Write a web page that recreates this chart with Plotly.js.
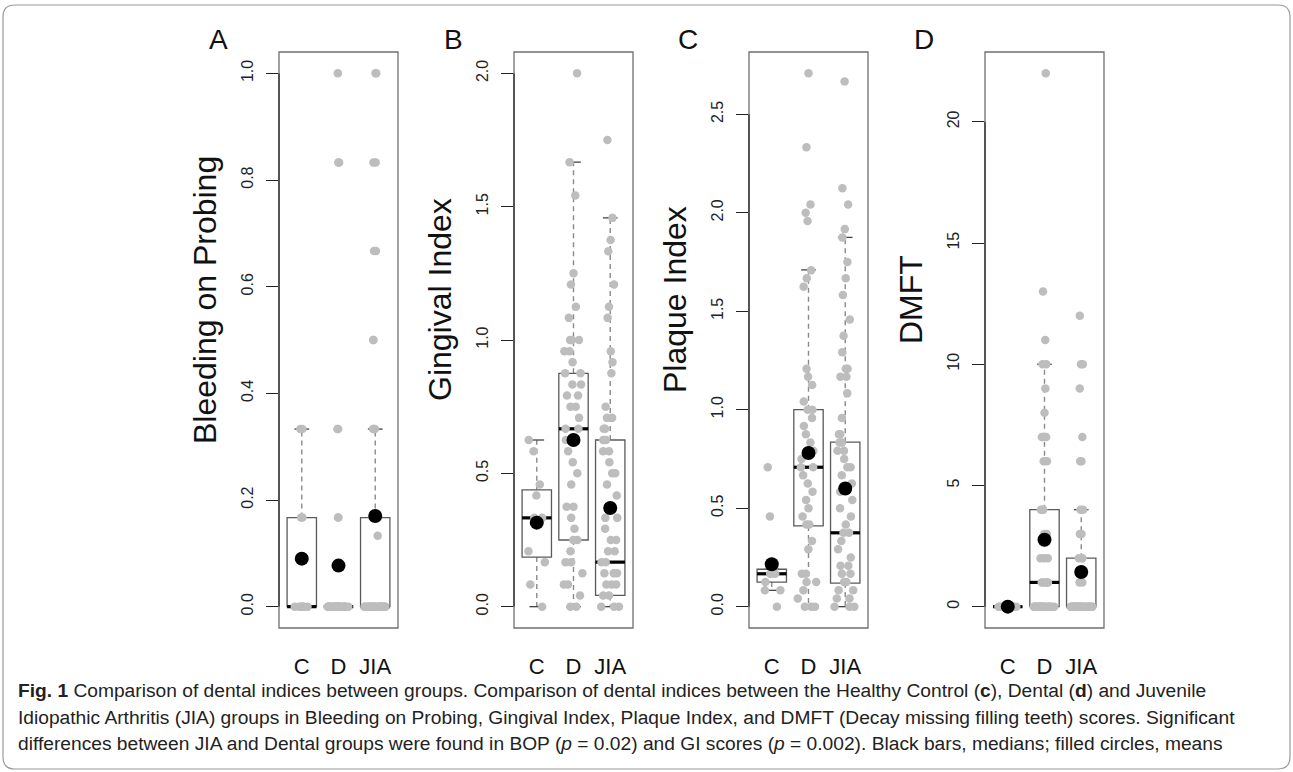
<!DOCTYPE html>
<html><head><meta charset="utf-8">
<script src="https://cdn.plot.ly/plotly-3.0.1.min.js"></script>
<style>html,body{margin:0;padding:0;background:#fff;}#chart{width:1293px;height:772px;}</style>
</head><body><div id="chart"></div>
<script>
// ---------- data ----------
const groups = ['C', 'D', 'JIA'];
const panelLetters = ['A', 'B', 'C', 'D'];
const panelTitles = ['Bleeding on Probing', 'Gingival Index', 'Plaque Index', 'DMFT'];

// A: Bleeding on Probing (individual scores)
const bopC = [0.333, 0.333, 0.167, 0.167, 0, 0, 0, 0, 0, 0, 0];
const bopD = [1.0, 0.833, 0.833, 0.333, 0.333, 0.167, 0.167,
  0, 0, 0, 0, 0, 0, 0, 0, 0, 0, 0, 0, 0, 0, 0, 0, 0, 0, 0, 0, 0, 0, 0, 0, 0, 0, 0, 0, 0, 0];
const bopJIA = [1.0, 1.0, 0.833, 0.833, 0.667, 0.667, 0.5, 0.5, 0.333, 0.333, 0.333, 0.167, 0.167, 0.167, 0.133,
  0, 0, 0, 0, 0, 0, 0, 0, 0, 0, 0, 0, 0, 0, 0, 0, 0, 0, 0, 0, 0, 0, 0, 0, 0, 0, 0, 0];
const bopQ1 = [0, 0, 0], bopMed = [0, 0, 0], bopQ3 = [0.167, 0, 0.167];
const bopLo = [0, 0, 0], bopHi = [0.333, 0, 0.333], bopMean = [0.09, 0.077, 0.17];
const bopTicks = [0, 0.2, 0.4, 0.6, 0.8, 1.0];

// B: Gingival Index
const giC = [0.625, 0.583, 0.458, 0.417, 0.333, 0.333, 0.208, 0.167, 0.083, 0];
const giD = [2.0, 1.667, 1.542, 1.25, 1.208, 1.125, 1.083, 1.0, 1.0, 1.0, 0.958, 0.958, 0.917, 0.875, 0.875,
  0.833, 0.833, 0.792, 0.792, 0.75, 0.75, 0.708, 0.667, 0.667, 0.625, 0.583, 0.542, 0.5, 0.458, 0.375, 0.375,
  0.333, 0.292, 0.25, 0.25, 0.208, 0.167, 0.167, 0.125, 0.083, 0.083, 0.042, 0, 0];
const giJIA = [1.75, 1.458, 1.375, 1.333, 1.208, 1.125, 1.083, 0.958, 0.917, 0.875, 0.75, 0.708, 0.708, 0.667,
  0.667, 0.625, 0.625, 0.583, 0.583, 0.542, 0.5, 0.5, 0.458, 0.417, 0.333, 0.333, 0.292, 0.25, 0.25, 0.208,
  0.208, 0.167, 0.167, 0.125, 0.125, 0.125, 0.083, 0.083, 0.083, 0.042, 0.042, 0, 0, 0];
const giQ1 = [0.186, 0.25, 0.042], giMed = [0.333, 0.667, 0.167], giQ3 = [0.438, 0.875, 0.625];
const giLo = [0, 0, 0], giHi = [0.625, 1.667, 1.458], giMean = [0.315, 0.625, 0.37];
const giTicks = [0, 0.5, 1.0, 1.5, 2.0];

// C: Plaque Index
const piC = [0.708, 0.458, 0.188, 0.167, 0.167, 0.167, 0.125, 0.083, 0.083, 0];
const piD = [2.708, 2.333, 2.042, 2.0, 1.958, 1.708, 1.667, 1.625, 1.208, 1.167, 1.125, 1.042, 1.0, 1.0, 0.958,
  0.917, 0.875, 0.833, 0.792, 0.75, 0.708, 0.708, 0.667, 0.625, 0.583, 0.542, 0.5, 0.458, 0.417, 0.417, 0.333,
  0.292, 0.167, 0.167, 0.125, 0.125, 0.083, 0.042, 0, 0, 0];
const piJIA = [2.667, 2.125, 2.042, 1.917, 1.875, 1.75, 1.667, 1.583, 1.458, 1.375, 1.292, 1.208, 1.208, 1.167,
  1.167, 1.083, 0.958, 0.875, 0.875, 0.833, 0.833, 0.792, 0.792, 0.75, 0.708, 0.708, 0.667, 0.625, 0.583, 0.542,
  0.5, 0.458, 0.417, 0.375, 0.375, 0.333, 0.292, 0.25, 0.208, 0.208, 0.167, 0.167, 0.125, 0.125, 0.083, 0.083,
  0.042, 0.042, 0, 0, 0];
const piQ1 = [0.125, 0.41, 0.12], piMed = [0.167, 0.708, 0.375], piQ3 = [0.19, 1.0, 0.835];
const piLo = [0.083, 0, 0], piHi = [0.19, 1.71, 1.875], piMean = [0.215, 0.78, 0.6];
const piTicks = [0, 0.5, 1.0, 1.5, 2.0, 2.5];

// D: DMFT
const dmftC = [0, 0, 0, 0, 0, 0, 0, 0, 0, 0];
const dmftD = [22, 13, 11, 10, 10, 9, 8, 7, 7, 7, 6, 6, 4, 4, 4, 3, 3, 2, 2, 2, 1, 1, 1, 1, 1,
  0, 0, 0, 0, 0, 0, 0, 0, 0, 0, 0, 0, 0, 0, 0, 0, 0, 0, 0, 0, 0, 0];
const dmftJIA = [12, 10, 10, 9, 7, 6, 6, 4, 4, 3, 3, 2, 2, 2, 1, 1,
  0, 0, 0, 0, 0, 0, 0, 0, 0, 0, 0, 0, 0, 0, 0, 0, 0, 0, 0, 0, 0, 0, 0, 0, 0, 0, 0, 0];
const dmftQ1 = [0, 0, 0], dmftMed = [0, 1, 0], dmftQ3 = [0, 4, 2];
const dmftLo = [0, 0, 0], dmftHi = [0, 10, 4], dmftMean = [0, 2.76, 1.43];
const dmftTicks = [0, 5, 10, 15, 20];

const captionLines = [
  '<b>Fig. 1</b> Comparison of dental indices between groups. Comparison of dental indices between the Healthy Control (<b>c</b>), Dental (<b>d</b>) and Juvenile',
  'Idiopathic Arthritis (JIA) groups in Bleeding on Probing, Gingival Index, Plaque Index, and DMFT (Decay missing filling teeth) scores. Significant',
  'differences between JIA and Dental groups were found in BOP (<i>p</i> = 0.02) and GI scores (<i>p</i> = 0.002). Black bars, medians; filled circles, means'
];

// ---------- build ----------
const W = 1293, H = 772;
const FONT = 'Liberation Sans, Arial, Helvetica, sans-serif';
const panels = [
  {vals: [bopC, bopD, bopJIA], q1: bopQ1, med: bopMed, q3: bopQ3, lo: bopLo, hi: bopHi, mean: bopMean, ticks: bopTicks, dec: 1},
  {vals: [giC, giD, giJIA], q1: giQ1, med: giMed, q3: giQ3, lo: giLo, hi: giHi, mean: giMean, ticks: giTicks, dec: 1},
  {vals: [piC, piD, piJIA], q1: piQ1, med: piMed, q3: piQ3, lo: piLo, hi: piHi, mean: piMean, ticks: piTicks, dec: 1},
  {vals: [dmftC, dmftD, dmftJIA], q1: dmftQ1, med: dmftMed, q3: dmftQ3, lo: dmftLo, hi: dmftHi, mean: dmftMean, ticks: dmftTicks, dec: 0}
];
const frameLeft = [279, 514, 749, 985];
const frameW = 119, frameTop = 52, frameBot = 628;
const BOXW = 0.8;

const data = [], shapes = [], annotations = [];
const layout = {
  width: W, height: H, margin: {l: 0, r: 0, t: 0, b: 0},
  paper_bgcolor: '#ffffff', plot_bgcolor: '#ffffff',
  showlegend: false, boxmode: 'overlay', font: {family: FONT, color: '#111'}
};

panels.forEach((p, k) => {
  const sfx = k === 0 ? '' : String(k + 1);
  const xa = 'x' + sfx, ya = 'y' + sfx;
  const all = [].concat(...p.vals);
  const mn = Math.min(...all), mx = Math.max(...all), ext = 0.04 * (mx - mn);
  layout['xaxis' + sfx] = {
    domain: [frameLeft[k] / W, (frameLeft[k] + frameW) / W], range: [0.38, 3.62],
    tickvals: [1, 2, 3], ticktext: groups, ticks: '', showline: false, zeroline: false, showgrid: false,
    tickfont: {size: 22, family: FONT, color: '#111'}, ticklabelstandoff: 23, anchor: ya, fixedrange: true
  };
  layout['yaxis' + sfx] = {
    domain: [1 - frameBot / H, 1 - frameTop / H], range: [mn - ext, mx + ext],
    tickvals: p.ticks, ticktext: p.ticks.map(v => v.toFixed(p.dec)), tickangle: -90,
    ticks: 'outside', ticklen: 12, tickwidth: 1, tickcolor: '#222', showline: false, zeroline: false,
    showgrid: false, tickfont: {size: 16, family: FONT, color: '#222'}, ticklabelstandoff: 7,
    anchor: xa, fixedrange: true
  };
  // jittered points (library jitter)
  const xs = [], ys = [];
  p.vals.forEach((arr, g) => arr.forEach(v => { xs.push(g + 1); ys.push(v); }));
  data.push({
    type: 'box', x: xs, y: ys, xaxis: xa, yaxis: ya, boxpoints: 'all', jitter: 0.75, pointpos: 0,
    width: BOXW, line: {width: 0, color: 'rgba(0,0,0,0)'}, fillcolor: 'rgba(0,0,0,0)',
    marker: {color: '#bdbdbd', size: 8.5, line: {width: 0}}, hoverinfo: 'skip'
  });
  // means
  data.push({
    type: 'scatter', mode: 'markers', x: [1, 2, 3], y: p.mean, xaxis: xa, yaxis: ya,
    marker: {color: '#000', size: 14}, hoverinfo: 'skip'
  });
  // box parts
  for (let g = 0; g < 3; g++) {
    const c = g + 1, hw = BOXW / 2;
    shapes.push({type: 'line', xref: xa, yref: ya, x0: c, x1: c, y0: p.q3[g], y1: p.hi[g], layer: 'below',
      line: {color: '#8a8a8a', width: 1.4, dash: '5px,4px'}});
    shapes.push({type: 'line', xref: xa, yref: ya, x0: c, x1: c, y0: p.q1[g], y1: p.lo[g], layer: 'below',
      line: {color: '#8a8a8a', width: 1.4, dash: '5px,4px'}});
    shapes.push({type: 'line', xref: xa, yref: ya, x0: c - hw / 2, x1: c + hw / 2, y0: p.hi[g], y1: p.hi[g],
      layer: 'below', line: {color: '#444', width: 1.3}});
    shapes.push({type: 'line', xref: xa, yref: ya, x0: c - hw / 2, x1: c + hw / 2, y0: p.lo[g], y1: p.lo[g],
      layer: 'below', line: {color: '#444', width: 1.3}});
    shapes.push({type: 'rect', xref: xa, yref: ya, x0: c - hw, x1: c + hw, y0: p.q1[g], y1: p.q3[g],
      layer: 'below', line: {color: '#5a5a5a', width: 1.3}, fillcolor: 'rgba(0,0,0,0)'});
    shapes.push({type: 'line', xref: xa, yref: ya, x0: c - hw, x1: c + hw, y0: p.med[g], y1: p.med[g],
      layer: 'below', line: {color: '#000', width: 3.2}});
  }
  // frame and axis line
  shapes.push({type: 'rect', xref: xa + ' domain', yref: ya + ' domain', x0: 0, x1: 1, y0: 0, y1: 1,
    layer: 'above', line: {color: '#6f6f6f', width: 1.3}});
  shapes.push({type: 'line', xref: xa + ' domain', yref: ya, x0: 0, x1: 0,
    y0: p.ticks[0], y1: p.ticks[p.ticks.length - 1], layer: 'above', line: {color: '#222', width: 1.2}});
  // panel letter & y title
  annotations.push({xref: 'paper', yref: 'paper', x: (frameLeft[k] - 61) / W, y: 1 - 40 / H,
    text: panelLetters[k], showarrow: false, xanchor: 'center', yanchor: 'middle',
    font: {size: 28, family: FONT, color: '#111'}});
  annotations.push({xref: 'paper', yref: 'paper', x: (frameLeft[k] - 74) / W, y: 1 - 300 / H,
    text: panelTitles[k], showarrow: false, textangle: -90, xanchor: 'center', yanchor: 'middle',
    font: {size: 32, family: FONT, color: '#111'}});
});

// caption
const capY = [690, 717, 743];
captionLines.forEach((t, i) => annotations.push({xref: 'paper', yref: 'paper', x: 16 / W, y: 1 - capY[i] / H,
  text: t, showarrow: false, xanchor: 'left', yanchor: 'middle', align: 'left',
  font: {size: 19.2, family: FONT, color: '#222'}}));

// rounded figure border
function P(x, y) { return (x / W).toFixed(5) + ',' + (1 - y / H).toFixed(5); }
const bl = 3, br = 1290, bt = 5, bb = 769, rr = 12;
shapes.push({type: 'path', xref: 'paper', yref: 'paper', layer: 'above', line: {color: '#9a9a9a', width: 1.2},
  path: 'M' + P(bl + rr, bt) + ' L' + P(br - rr, bt) + ' Q' + P(br, bt) + ' ' + P(br, bt + rr) +
    ' L' + P(br, bb - rr) + ' Q' + P(br, bb) + ' ' + P(br - rr, bb) + ' L' + P(bl + rr, bb) +
    ' Q' + P(bl, bb) + ' ' + P(bl, bb - rr) + ' L' + P(bl, bt + rr) + ' Q' + P(bl, bt) + ' ' + P(bl + rr, bt) + ' Z'});

layout.shapes = shapes;
layout.annotations = annotations;
Plotly.newPlot('chart', data, layout, {staticPlot: true, displayModeBar: false});
</script></body></html>
